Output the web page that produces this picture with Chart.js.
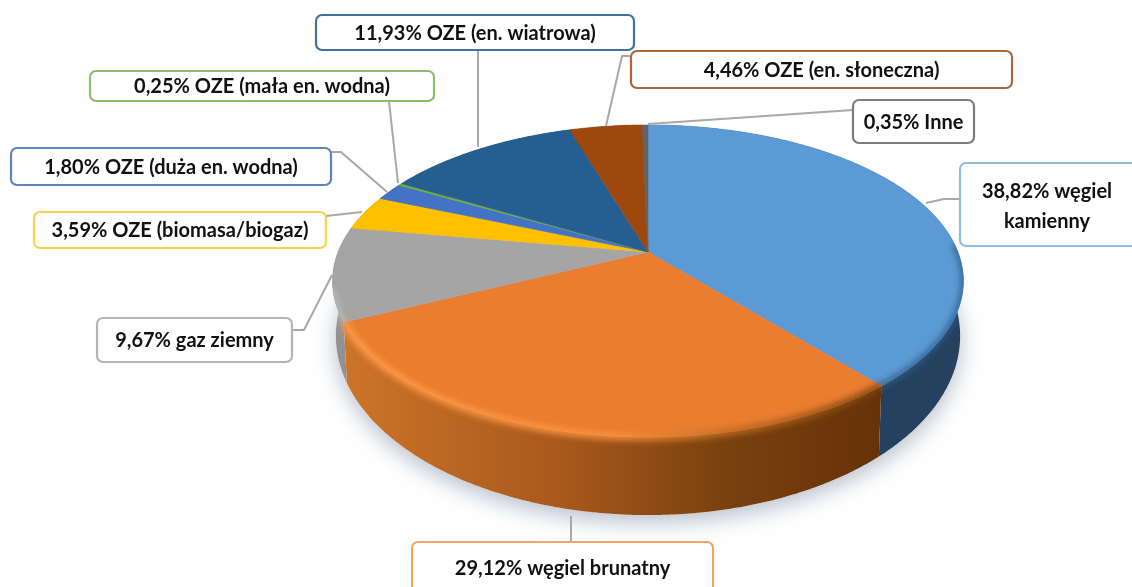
<!DOCTYPE html>
<html lang="pl">
<head>
<meta charset="utf-8">
<title>Struktura produkcji energii</title>
<script src="https://cdn.jsdelivr.net/npm/chart.js@4"></script>
<style>
  html, body { margin: 0; padding: 0; background: #fff; overflow: hidden; }
  canvas { display: block; filter: blur(0.5px); }
</style>
</head>
<body>
<canvas id="pie3d" width="1132" height="587"></canvas>
<script>
// Dane wykresu
const categories = ['węgiel kamienny', 'węgiel brunatny', 'gaz ziemny', 'OZE (biomasa/biogaz)', 'OZE (duża en. wodna)', 'OZE (mała en. wodna)', 'OZE (en. wiatrowa)', 'OZE (en. słoneczna)', 'Inne'];
const shares = [38.82, 29.12, 9.67, 3.59, 1.80, 0.25, 11.93, 4.46, 0.35];

// Kolory
const sliceColors = ['#5b9ad5', '#ea7d30', '#a5a5a5', '#ffc000', '#4472c4', '#70ad47', '#255e91', '#9e480e', '#636363'];
const sideColors = ['#25415f', '#8a4a16', '#929292', '#b98c00', '#2f5190', '#4f7c32', '#1a4268', '#6f320a', '#454545'];
const borderColors = ['#93bbdc', '#eea566', '#b4b4b4', '#fbd04a', '#5f83bf', '#8dbd6c', '#3f729f', '#a9683c', '#7c7c7c'];

// Położenie etykiet: x, y, szerokość, wysokość
const labelBoxes = [
    [960, 163, 180, 83], [412, 542, 301, 60], [97, 318, 195, 44],
    [34, 212, 292, 36], [11, 148, 320, 37], [90, 71, 344, 30],
    [316, 15, 318, 35], [631, 51, 381, 37], [853, 100, 121, 43]
];
const labelLines = [
    [[960, 199], [944, 199], [926, 203]],
    [[571, 542], [571, 516]],
    [[292, 330], [304, 330], [332, 275]],
    [[326, 216], [362, 212]],
    [[331, 152], [341, 152], [387, 192]],
    [[389, 101], [398, 183]],
    [[478, 50], [478, 147]],
    [[631, 56], [622, 56], [606, 126]],
    [[853, 110], [648, 124]]
];

// Perspektywa tarczy: górna powierzchnia i dolna krawędź
const tilt = 0.186;
const topFace = { sx: 1.23, sy: 0.598, dy: 0 };
const bottomFace = { sx: 1.217, sy: 0.686, dy: 50.7 };

function project(el, angle, face) {
    const x = Math.cos(angle), y = Math.sin(angle);
    const w = 1 - tilt * y;
    return [
        el.x + el.outerRadius * face.sx * x / w,
        el.y + face.dy + el.outerRadius * face.sy * y / w
    ];
}

function arcPoints(el, from, to, face) {
    const steps = Math.max(2, Math.ceil(Math.abs(to - from) / 0.01));
    const points = [];
    for (let i = 0; i <= steps; i++) {
        points.push(project(el, from + (to - from) * i / steps, face));
    }
    return points;
}

function tracePoints(ctx, points, move) {
    points.forEach((p, i) => {
        if (i === 0 && move) ctx.moveTo(p[0], p[1]);
        else ctx.lineTo(p[0], p[1]);
    });
}

function sideFill(ctx, i) {
    if (i !== 1) return sideColors[i];
    const g = ctx.createLinearGradient(345, 0, 880, 0);
    g.addColorStop(0, '#cc7429');
    g.addColorStop(0.4, '#a9591c');
    g.addColorStop(0.7, '#7a420f');
    g.addColorStop(1, '#673208');
    return g;
}

// Rysuje tarczę 3D z kątów wyliczonych przez Chart.js
function drawPie(chart) {
    const ctx = chart.ctx;
    const arcs = chart.getDatasetMeta(0).data;

    // Cień pod tarczą
    ctx.save();
    ctx.shadowColor = 'rgba(110, 130, 150, 0.5)';
    ctx.shadowBlur = 22;
    ctx.shadowOffsetY = 7;
    ctx.fillStyle = '#fff';
    ctx.beginPath();
    tracePoints(ctx, arcPoints(arcs[0], 0, Math.PI * 2, bottomFace), true);
    ctx.closePath();
    ctx.fill();
    ctx.restore();

    // Ściana boczna
    arcs.forEach((el, i) => {
        ctx.fillStyle = sideFill(ctx, i);
        ctx.beginPath();
        tracePoints(ctx, arcPoints(el, el.startAngle, el.endAngle, topFace), true);
        tracePoints(ctx, arcPoints(el, el.endAngle, el.startAngle, bottomFace), false);
        ctx.closePath();
        ctx.fill();
    });

    // Górna powierzchnia
    arcs.forEach((el, i) => {
        ctx.fillStyle = sliceColors[i];
        ctx.strokeStyle = sliceColors[i];
        ctx.lineWidth = 0.6;
        ctx.beginPath();
        ctx.moveTo(el.x, el.y);
        tracePoints(ctx, arcPoints(el, el.startAngle, el.endAngle, topFace), false);
        ctx.closePath();
        ctx.fill();
        ctx.stroke();
    });

    drawRims(ctx, arcs);
}

// Rozmyte krawędzie na przedniej części tarczy
function drawRims(ctx, arcs) {
    const blue = arcs[0], orange = arcs[1], gray = arcs[2];
    const warm = ctx.createLinearGradient(345, 0, 880, 0);
    warm.addColorStop(0, '#ff9b4a');
    warm.addColorStop(0.5, '#f8933f');
    warm.addColorStop(0.75, '#b8661f');
    warm.addColorStop(1, '#7a420f');

    ctx.save();
    // Rozmycie nie może wyjść poza bryłę tarczy
    ctx.beginPath();
    tracePoints(ctx, arcPoints(blue, 0, Math.PI * 2, topFace), true);
    ctx.closePath();
    tracePoints(ctx, arcPoints(blue, 0, Math.PI * 2, bottomFace), true);
    ctx.closePath();
    ctx.clip();

    ctx.filter = 'blur(3px)';
    ctx.lineCap = 'butt';

    ctx.strokeStyle = '#2f5b87';
    ctx.lineWidth = 5;
    ctx.beginPath();
    tracePoints(ctx, arcPoints(blue, -0.05, blue.endAngle, topFace), true);
    ctx.stroke();

    ctx.strokeStyle = warm;
    ctx.lineWidth = 7;
    ctx.beginPath();
    tracePoints(ctx, arcPoints(orange, orange.startAngle, orange.endAngle, topFace), true);
    ctx.stroke();

    ctx.strokeStyle = '#bcbcbc';
    ctx.lineWidth = 5;
    ctx.beginPath();
    tracePoints(ctx, arcPoints(gray, gray.startAngle, gray.startAngle + 0.2, topFace), true);
    ctx.stroke();
    ctx.restore();
}

function labelText(i) {
    return shares[i].toFixed(2).replace('.', ',') + '% ' + categories[i];
}

function drawLabels(chart) {
    const ctx = chart.ctx;
    ctx.save();
    ctx.lineJoin = 'round';
    labelLines.forEach(line => {
        ctx.strokeStyle = '#a8a8a8';
        ctx.lineWidth = 2;
        ctx.beginPath();
        line.forEach((p, i) => i === 0 ? ctx.moveTo(p[0], p[1]) : ctx.lineTo(p[0], p[1]));
        ctx.stroke();
    });
    categories.forEach((name, i) => {
        const b = labelBoxes[i];
        ctx.fillStyle = '#fff';
        ctx.strokeStyle = borderColors[i];
        ctx.lineWidth = 2.2;
        ctx.beginPath();
        ctx.roundRect(b[0], b[1], b[2], b[3], 6);
        ctx.fill();
        ctx.stroke();

        ctx.fillStyle = '#111';
        ctx.font = 'bold 20px Lato, "Open Sans", sans-serif';
        ctx.textAlign = 'center';
        ctx.textBaseline = 'middle';
        const cx = b[0] + b[2] / 2;
        if (i === 0) {
            // Etykieta w dwóch wierszach
            ctx.fillText(shares[i].toFixed(2).replace('.', ',') + '% węgiel', cx - 3, 192);
            ctx.fillText('kamienny', cx - 3, 222);
        } else {
            const cy = i === 1 ? 569 : b[1] + b[3] / 2 + 1;
            ctx.fillText(labelText(i), cx, cy);
        }
    });
    ctx.restore();
}

const pie3dPlugin = {
    id: 'pie3d',
    beforeDatasetDraw(chart) {
        drawPie(chart);
        return false;
    },
    afterDraw(chart) {
        drawLabels(chart);
    }
};

new Chart(document.getElementById('pie3d').getContext('2d'), {
    type: 'pie',
    data: {
        labels: categories,
        datasets: [{ data: shares, backgroundColor: sliceColors, borderWidth: 0 }]
    },
    options: {
        responsive: false,
        animation: false,
        layout: { padding: { left: 396, right: 232, top: 0, bottom: 83 } },
        plugins: {
            legend: { display: false },
            tooltip: { enabled: false }
        }
    },
    plugins: [pie3dPlugin]
});
</script>
</body>
</html>
